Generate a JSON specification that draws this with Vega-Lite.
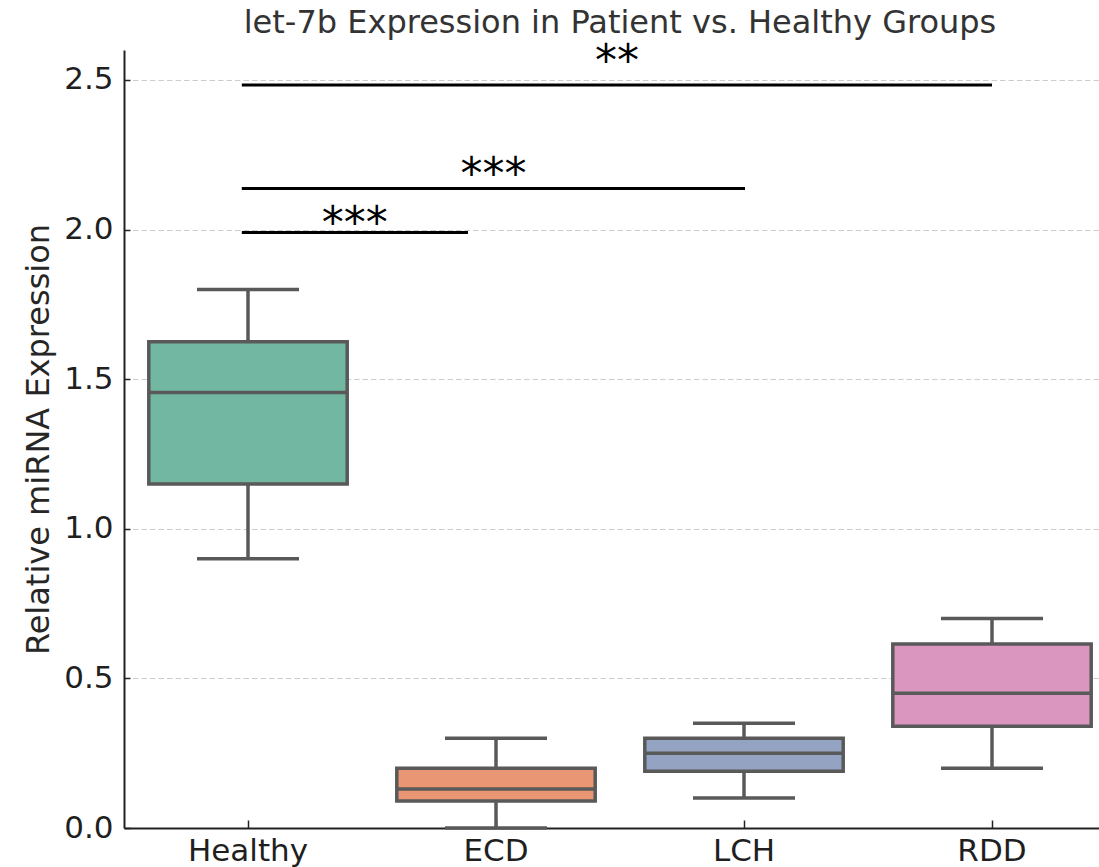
{
  "$schema": "https://vega.github.io/schema/vega-lite/v6.json",
  "autosize": {"type": "none"},
  "padding": {"left": 124, "top": 50, "right": 0, "bottom": 39},
  "width": 992,
  "height": 778,
  "background": "white",
  "config": {
    "view": {"stroke": null},
    "font": "DejaVu Sans"
  },
  "title": {
    "text": "let-7b Expression in Patient vs. Healthy Groups",
    "font": "DejaVu Sans",
    "fontSize": 32,
    "fontWeight": "normal",
    "color": "#333333",
    "baseline": "alphabetic",
    "offset": 2,
    "dy": 26,
    "anchor": "middle"
  },
  "layer": [
    {
      "data": {
        "values": [
          {"group": "Healthy", "lo": 0.9, "q1": 1.15, "med": 1.455, "q3": 1.625, "hi": 1.8},
          {"group": "ECD", "lo": 0.0, "q1": 0.09, "med": 0.13, "q3": 0.2, "hi": 0.3},
          {"group": "LCH", "lo": 0.1, "q1": 0.19, "med": 0.25, "q3": 0.3, "hi": 0.35},
          {"group": "RDD", "lo": 0.2, "q1": 0.34, "med": 0.45, "q3": 0.615, "hi": 0.7}
        ]
      },
      "encoding": {
        "x": {
          "field": "group",
          "type": "nominal",
          "sort": ["Healthy", "ECD", "LCH", "RDD"],
          "scale": {"paddingInner": 0, "paddingOuter": 0},
          "axis": {
            "title": null,
            "labelAngle": 0,
            "labelFont": "DejaVu Sans",
            "labelFontSize": 31,
            "labelColor": "#1f1f1f",
            "labelPadding": 16,
            "tickSize": -8,
            "tickColor": "#222222",
            "tickWidth": 1.5,
            "domainColor": "#222222",
            "domainWidth": 2,
            "grid": false
          }
        }
      },
      "layer": [
        {
          "mark": {"type": "rule", "stroke": "#595959", "strokeWidth": 3.5},
          "encoding": {
            "y": {
              "field": "lo",
              "type": "quantitative",
              "scale": {"domain": [0, 2.6], "nice": false, "zero": false},
              "title": "Relative miRNA Expression",
              "axis": {
                "values": [0, 0.5, 1, 1.5, 2, 2.5],
                "format": ".1f",
                "labelFont": "DejaVu Sans",
                "labelFontSize": 31,
                "labelColor": "#1f1f1f",
                "labelPadding": 17,
                "tickSize": -6,
                "tickColor": "#222222",
                "tickWidth": 1.5,
                "domainColor": "#222222",
                "domainWidth": 2,
                "grid": true,
                "gridColor": "#cccccc",
                "gridDash": [5.5, 3],
                "gridWidth": 1,
                "titleFont": "DejaVu Sans",
                "titleFontSize": 32,
                "titleFontWeight": "normal",
                "titleColor": "#262626",
                "titleAngle": -90,
                "titleBaseline": "alphabetic",
                "titleAlign": "center",
                "titleX": -76,
                "titleY": 389
              }
            },
            "y2": {"field": "hi"}
          }
        },
        {
          "mark": {"type": "bar", "width": {"band": 0.8}, "stroke": "#595959", "strokeWidth": 3.5, "opacity": 1},
          "encoding": {
            "y": {"field": "q1", "type": "quantitative", "title": "Relative miRNA Expression"},
            "y2": {"field": "q3"},
            "color": {
              "field": "group",
              "type": "nominal",
              "scale": {"domain": ["Healthy", "ECD", "LCH", "RDD"], "range": ["#72b7a1", "#e99675", "#95a3c3", "#db96c0"]},
              "legend": null
            }
          }
        },
        {
          "mark": {"type": "tick", "size": 198, "thickness": 3.5, "color": "#595959", "opacity": 1},
          "encoding": {
            "y": {"field": "med", "type": "quantitative", "title": "Relative miRNA Expression"}
          }
        },
        {
          "mark": {"type": "tick", "size": 102, "thickness": 3.5, "color": "#595959", "opacity": 1},
          "encoding": {
            "y": {"field": "lo", "type": "quantitative", "title": "Relative miRNA Expression"}
          }
        },
        {
          "mark": {"type": "tick", "size": 102, "thickness": 3.5, "color": "#595959", "opacity": 1},
          "encoding": {
            "y": {"field": "hi", "type": "quantitative", "title": "Relative miRNA Expression"}
          }
        }
      ]
    },
    {
      "data": {
        "values": [
          {"pair": "Healthy vs ECD", "from": -0.025, "to": 0.887, "level": 1.99, "mid": 0.43, "labelLevel": 1.972, "stars": "***"},
          {"pair": "Healthy vs LCH", "from": -0.025, "to": 2.004, "level": 2.137, "mid": 0.99, "labelLevel": 2.135, "stars": "***"},
          {"pair": "Healthy vs RDD", "from": -0.025, "to": 3.0, "level": 2.483, "mid": 1.488, "labelLevel": 2.513, "stars": "**"}
        ]
      },
      "layer": [
        {
          "mark": {"type": "rule", "stroke": "#000000", "strokeWidth": 3},
          "encoding": {
            "x": {"field": "from", "type": "quantitative", "scale": {"domain": [-0.5, 3.5], "nice": false, "zero": false}, "axis": null},
            "x2": {"field": "to"},
            "y": {"field": "level", "type": "quantitative", "title": "Relative miRNA Expression"}
          }
        },
        {
          "mark": {"type": "text", "font": "DejaVu Sans", "fontSize": 44, "color": "#000000", "align": "center", "baseline": "alphabetic"},
          "encoding": {
            "x": {"field": "mid", "type": "quantitative", "scale": {"domain": [-0.5, 3.5], "nice": false, "zero": false}, "axis": null},
            "y": {"field": "labelLevel", "type": "quantitative", "title": "Relative miRNA Expression"},
            "text": {"field": "stars"}
          }
        }
      ]
    }
  ],
  "resolve": {"scale": {"x": "independent"}, "axis": {"x": "independent"}}
}
